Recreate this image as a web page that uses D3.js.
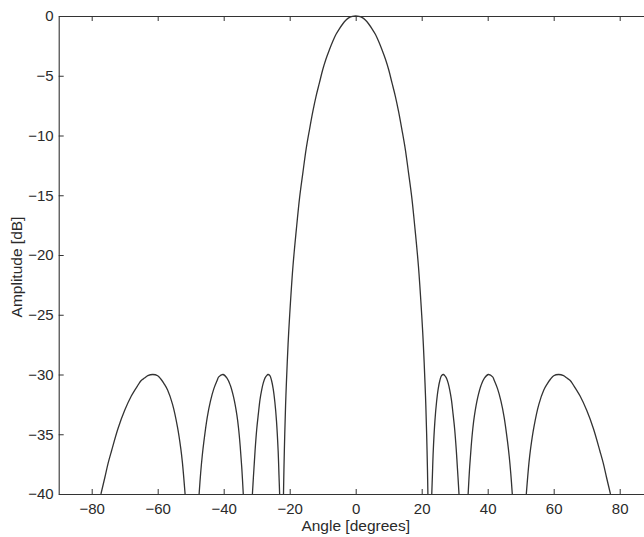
<!DOCTYPE html>
<html>
<head>
<meta charset="utf-8">
<script src="https://cdn.jsdelivr.net/npm/d3@7"></script>
<style>
  html, body { margin: 0; padding: 0; background: #ffffff; }
  svg { display: block; }
  text { font-family: "Liberation Sans", Arial, Helvetica, sans-serif; fill: #2a2a2a; }
</style>
</head>
<body>
<svg id="chart" width="644" height="537"></svg>
<script>
// Array factor of an 8-element, -30 dB sidelobe array, clipped at -40 dB.
// Each lobe is listed separately as (angle in degrees, amplitude in dB).

const xTicks = [-80, -60, -40, -20, 0, 20, 40, 60, 80];
const yTicks = [0, -5, -10, -15, -20, -25, -30, -35, -40];

const lobe1Angle = [-77.2, -76, -75, -74, -72, -70, -68, -66, -65, -64, -63, -61.5,
                    -60, -59, -58, -57, -55.5, -54, -53, -52.5, -51.7];
const lobe1Db    = [-40, -38.6, -37.4, -36.4, -34.5, -33.0, -31.8, -30.9, -30.5, -30.3, -30.1, -30,
                    -30.1, -30.4, -30.8, -31.3, -32.5, -34.4, -36.2, -37.4, -40];

const lobe2Angle = [-47.45, -47, -46.5, -46, -45, -44, -43, -42, -41.5, -40.2,
                    -39, -38, -37, -36, -35.5, -35, -34.5, -34.07];
const lobe2Db    = [-40, -38.3, -36.8, -35.6, -33.6, -32.2, -31.2, -30.5, -30.2, -30,
                    -30.3, -30.9, -31.9, -33.4, -34.5, -36.0, -37.9, -40];

const lobe3Angle = [-31.3, -31.0, -30.75, -30.5, -30, -29.5, -29, -28.5, -28, -27.5, -27,
                    -26.6, -26, -25.5, -25, -24.5, -24, -23.5, -23.25, -23.05];
const lobe3Db    = [-40, -38.6, -37.5, -36.4, -34.6, -33.3, -32.1, -31.3, -30.7, -30.3, -30.1,
                    -30, -30.1, -30.5, -31.2, -32.3, -33.9, -36.4, -38.4, -40];

const mainAngle = [-21.88, -21.75, -21.5, -21.25, -21, -20.5, -20, -19, -18, -17, -16, -15,
                   -14, -13, -12, -11, -10, -9, -8, -7, -6, -5, -4, -3, -2, -1, 0,
                   1, 2, 3, 4, 5, 6, 7, 8, 9, 10, 11, 12,
                   13, 14, 15, 16, 17, 18, 19, 20, 20.5, 21, 21.25, 21.5, 21.75, 21.88];
const mainDb    = [-40, -38.0, -35.0, -32.6, -30.7, -27.5, -25.0, -20.9, -17.9, -15.2, -13.1, -11.1,
                   -9.5, -8.0, -6.7, -5.6, -4.5, -3.6, -2.85, -2.16, -1.55, -1.09, -0.69, -0.36, -0.14, -0.04, 0,
                   -0.04, -0.14, -0.36, -0.69, -1.09, -1.55, -2.16, -2.85, -3.6, -4.5, -5.6, -6.7,
                   -8.0, -9.5, -11.1, -13.1, -15.2, -17.9, -20.9, -25.0, -27.5, -30.7, -32.6, -35.0, -38.0, -40];

const lobe4Angle = [23.05, 23.25, 23.5, 24, 24.5, 25, 25.5, 26, 26.6, 27, 27.5,
                    28, 28.5, 29, 29.5, 30, 30.5, 30.75, 31.0, 31.3];
const lobe4Db    = [-40, -38.4, -36.4, -33.9, -32.3, -31.2, -30.5, -30.1, -30, -30.1, -30.3,
                    -30.7, -31.3, -32.1, -33.3, -34.6, -36.4, -37.5, -38.6, -40];

const lobe5Angle = [34.07, 34.5, 35, 35.5, 36, 37, 38, 39, 40.2,
                    41.5, 42, 43, 44, 45, 46, 46.5, 47, 47.45];
const lobe5Db    = [-40, -37.9, -36.0, -34.5, -33.4, -31.9, -30.9, -30.3, -30,
                    -30.2, -30.5, -31.2, -32.2, -33.6, -35.6, -36.8, -38.3, -40];

const lobe6Angle = [51.7, 52.5, 53, 54, 55.5, 57, 58, 59, 60, 61.5,
                    63, 64, 65, 66, 68, 70, 72, 74, 75, 76, 77.2];
const lobe6Db    = [-40, -37.4, -36.2, -34.4, -32.5, -31.3, -30.8, -30.4, -30.1, -30,
                    -30.1, -30.3, -30.5, -30.9, -31.8, -33.0, -34.5, -36.4, -37.4, -38.6, -40];

const lobes = [
  [lobe1Angle, lobe1Db], [lobe2Angle, lobe2Db], [lobe3Angle, lobe3Db],
  [mainAngle, mainDb],
  [lobe4Angle, lobe4Db], [lobe5Angle, lobe5Db], [lobe6Angle, lobe6Db]
];

const svg = d3.select("#chart");
const plotLeft = 58.7, plotRight = 652.7, plotTop = 16, plotBottom = 494;

const x = d3.scaleLinear().domain([-90, 90]).range([plotLeft, plotRight]);
const y = d3.scaleLinear().domain([-40, 0]).range([plotBottom, plotTop]);

const ink = "#333333";

svg.append("defs").append("clipPath").attr("id", "plot")
  .append("rect").attr("x", plotLeft).attr("y", plotTop - 2)
  .attr("width", plotRight - plotLeft).attr("height", plotBottom - plotTop + 2);

// Axes with inward ticks on all four sides
const gx = svg.append("g").attr("transform", `translate(0,${plotBottom})`)
  .call(d3.axisBottom(x).tickValues(xTicks).tickSizeInner(-5).tickSizeOuter(0).tickPadding(9));
const gxt = svg.append("g").attr("transform", `translate(0,${plotTop})`)
  .call(d3.axisTop(x).tickValues(xTicks).tickSizeInner(-5).tickSizeOuter(0).tickFormat(""));
const gy = svg.append("g").attr("transform", `translate(${plotLeft},0)`)
  .call(d3.axisLeft(y).tickValues(yTicks).tickSizeInner(-5).tickSizeOuter(0).tickPadding(5));
const gyr = svg.append("g").attr("transform", `translate(${plotRight},0)`)
  .call(d3.axisRight(y).tickValues(yTicks).tickSizeInner(-5).tickSizeOuter(0).tickFormat(""));

[gx, gxt, gy, gyr].forEach(g => {
  g.selectAll("path.domain").attr("stroke", ink).attr("stroke-width", 1.1);
  g.selectAll(".tick line").attr("stroke", ink).attr("stroke-width", 1);
  g.selectAll(".tick text").style("font-size", "15px")
    .style("font-family", '"Liberation Sans", Arial, sans-serif').attr("fill", "#2a2a2a");
});

// Pattern curves
const line = d3.line()
  .x(d => x(d[0]))
  .y(d => y(d[1]))
  .curve(d3.curveCatmullRom.alpha(0.5));

svg.append("g").attr("clip-path", "url(#plot)")
  .selectAll("path.lobe")
  .data(lobes)
  .join("path")
  .attr("class", "lobe")
  .attr("d", ([a, v]) => line(a.map((t, i) => [t, v[i]])))
  .attr("fill", "none")
  .attr("stroke", ink)
  .attr("stroke-width", 1.3)
  .attr("stroke-linejoin", "round");

// Axis titles
svg.append("text")
  .attr("x", x(0)).attr("y", 531)
  .attr("text-anchor", "middle")
  .style("font-size", "15.5px")
  .text("Angle [degrees]");

svg.append("text")
  .attr("transform", `translate(22,${(plotTop + plotBottom) / 2 + 12}) rotate(-90)`)
  .attr("text-anchor", "middle")
  .style("font-size", "15.5px")
  .text("Amplitude [dB]");
</script>
</body>
</html>
